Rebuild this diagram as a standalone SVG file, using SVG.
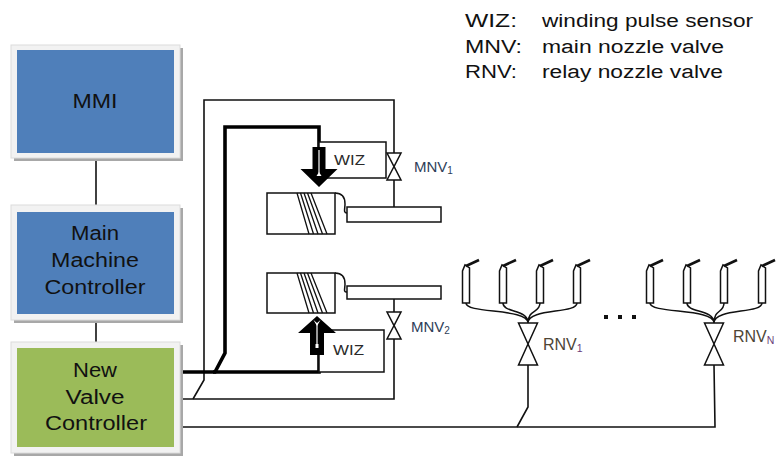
<svg xmlns="http://www.w3.org/2000/svg" width="779" height="457" viewBox="0 0 779 457">
<defs>
<style>
.t{font-family:"Liberation Sans",Arial,sans-serif;fill:#111}
.bx{font-size:20px;text-anchor:middle}
.lg{font-size:18px}
.sm{font-size:15px}
.thin{fill:none;stroke:#111;stroke-width:1.6}
.thick{fill:none;stroke:#000;stroke-width:3.6}
.frame{fill:#f2f2f2;stroke:#dcdcdc;stroke-width:1}
.shadow{fill:#a8a8a8}
.valve{fill:#fff;stroke:#111;stroke-width:1.5;stroke-linejoin:miter}
.drum{fill:#fff;stroke:#111;stroke-width:1.5}
.wire{fill:none;stroke:#111;stroke-width:1.5}
</style>
<g id="nozzle-shape">
<path d="M-3.5,303 L-3.5,271 L-1,265 L3.5,268 L3.5,303 Z" fill="#fff" stroke="#111" stroke-width="1.5"/>
<path d="M0,266 L13,260" stroke="#111" stroke-width="2.6" fill="none"/>
</g>
<g id="valve-sm">
<path d="M-7,0 L7,0 L0,13.5 Z M0,13.5 L-7,27 L7,27 Z" class="valve"/>
</g>
<g id="valve-lg">
<path d="M-9.5,0 L9.5,0 L0,21 Z M0,21 L-9.5,42 L9.5,42 Z" class="valve"/>
</g>
</defs>

<rect width="779" height="457" fill="#fff"/>

<!-- legend -->
<g id="legend">
<text class="t lg" x="465" y="27" textLength="52" lengthAdjust="spacingAndGlyphs">WIZ:</text>
<text class="t lg" x="542" y="27" textLength="211" lengthAdjust="spacingAndGlyphs">winding pulse sensor</text>
<text class="t lg" x="465" y="53" textLength="57" lengthAdjust="spacingAndGlyphs">MNV:</text>
<text class="t lg" x="542" y="53" textLength="182" lengthAdjust="spacingAndGlyphs">main nozzle valve</text>
<text class="t lg" x="465" y="78" textLength="52" lengthAdjust="spacingAndGlyphs">RNV:</text>
<text class="t lg" x="542" y="78" textLength="181" lengthAdjust="spacingAndGlyphs">relay nozzle valve</text>
</g>

<!-- connectors -->
<g id="connectors">
<line x1="96" y1="158" x2="96" y2="205" class="thin"/>
<line x1="96" y1="320" x2="96" y2="342" class="thin"/>
<path d="M193,399 L204,380 L204,100 L394,100 L394,153" class="thin"/>
<path d="M394,180 L394,207" class="thin"/>
<path d="M180,399 L394,399 L394,339" class="thin"/>
<path d="M394,312 L394,299" class="thin"/>
<path d="M180,372 L215,372 L225,353 L225,127 L319,127 L319,147" class="thick"/>
<path d="M213,372 L319,372 L319,354" class="thick"/>
<path d="M180,427 L715,427 L714,365" class="thin"/>
<path d="M517,427 L528,407 L528,365" class="thin"/>
<path d="M466,303 C466,314 528,308 528,323 M503,303 C503,313 528,309 528,323 M540,303 C540,313 528,309 528,323 M577,303 C577,314 528,308 528,323" class="wire"/>
<path d="M650,303 C650,314 714,308 714,323 M687,303 C687,313 714,309 714,323 M724,303 C724,313 714,309 714,323 M762,303 C762,314 714,308 714,323" class="wire"/>
</g>

<!-- boxes -->
<g id="mmi">
<rect x="14" y="48" width="169" height="113" class="shadow"/>
<rect x="11" y="45" width="169" height="113" class="frame"/>
<rect x="17" y="50" width="157" height="103" fill="#4f7fba"/>
<text class="t bx" x="95" y="107.5" textLength="45" lengthAdjust="spacingAndGlyphs">MMI</text>
</g>
<g id="mmc">
<rect x="14" y="208" width="169" height="115" class="shadow"/>
<rect x="11" y="205" width="169" height="115" class="frame"/>
<rect x="17" y="212" width="157" height="102" fill="#4f7fba"/>
<text class="t bx" x="95" y="240" textLength="48" lengthAdjust="spacingAndGlyphs">Main</text>
<text class="t bx" x="95" y="267" textLength="88" lengthAdjust="spacingAndGlyphs">Machine</text>
<text class="t bx" x="95" y="294" textLength="101" lengthAdjust="spacingAndGlyphs">Controller</text>
</g>
<g id="nvc">
<rect x="14" y="345" width="169" height="111" class="shadow"/>
<rect x="11" y="342" width="169" height="111" class="frame"/>
<rect x="17" y="348" width="157" height="99" fill="#9bbb59"/>
<text class="t bx" x="95" y="377" textLength="44" lengthAdjust="spacingAndGlyphs">New</text>
<text class="t bx" x="95" y="404" textLength="59" lengthAdjust="spacingAndGlyphs">Valve</text>
<text class="t bx" x="96" y="430" textLength="102" lengthAdjust="spacingAndGlyphs">Controller</text>
</g>

<!-- upper main nozzle -->
<g id="main-nozzle-1">
<rect x="267" y="193" width="68" height="41" class="drum"/>
<path d="M297,193 L309,234 M300.5,193 L313.5,234 M304,193 L318,234 M307.5,193 L322.5,234 M311,193 L327,234" stroke="#111" stroke-width="1.3" fill="none"/>
<path d="M335,193 C343,193 345,199 345,204 C345,209 343,213 347,213" class="wire"/>
<rect x="347" y="207" width="94" height="15" class="drum"/>
</g>
<g id="wiz-1">
<rect x="319" y="142" width="67" height="36" class="drum"/>
<path d="M312.5,147 L325.5,147 L325.5,169 L337.5,169 L319,187 L300.5,169 L312.5,169 Z" fill="#000"/>
<path d="M319,150 L319,173" stroke="#fff" stroke-width="1.2"/>
<path d="M316.5,176 L319,172 L321.5,176 Z" fill="#fff"/>
<text class="t sm" x="334" y="165" style="fill:#2a2a2a" textLength="31" lengthAdjust="spacingAndGlyphs">WIZ</text>
</g>
<g id="mnv-1">
<use href="#valve-sm" x="394" y="153"/>
<text class="t sm" x="414" y="172" style="fill:#2e3e58">MNV<tspan font-size="10" dy="2">1</tspan></text>
</g>

<!-- lower main nozzle -->
<g id="main-nozzle-2">
<rect x="267" y="273" width="68" height="40" class="drum"/>
<path d="M297,273 L309,313 M300.5,273 L313.5,313 M304,273 L318,313 M307.5,273 L322.5,313 M311,273 L327,313" stroke="#111" stroke-width="1.3" fill="none"/>
<path d="M335,273 C343,273 345,279 345,284 C345,289 343,292 347,292" class="wire"/>
<rect x="347" y="286" width="94" height="13" class="drum"/>
</g>
<g id="wiz-2">
<rect x="319" y="330" width="65" height="42" class="drum"/>
<path d="M317,316 L336,333 L324,333 L324,355 L310,355 L310,333 L298,333 Z" fill="#000"/>
<path d="M317,324 L317,345" stroke="#fff" stroke-width="1.2"/>
<path d="M313.5,320 L317,323 L320.5,320 L317,326 Z" fill="#fff"/>
<rect x="315.5" y="344" width="3" height="4" fill="#fff"/>
<text class="t sm" x="333" y="355" style="fill:#2a2a2a" textLength="31" lengthAdjust="spacingAndGlyphs">WIZ</text>
</g>
<g id="mnv-2">
<use href="#valve-sm" x="394" y="312"/>
<text class="t sm" x="411" y="332" style="fill:#2e3e58">MNV<tspan font-size="10" dy="2">2</tspan></text>
</g>

<!-- relay nozzles -->
<g id="relay-group-1">
<use href="#nozzle-shape" x="466"/>
<use href="#nozzle-shape" x="503"/>
<use href="#nozzle-shape" x="540"/>
<use href="#nozzle-shape" x="577"/>
</g>
<g id="rnv-1">
<use href="#valve-lg" x="528" y="323"/>
<text class="t" x="543" y="350" style="fill:#4d4535;font-size:16px">RNV<tspan font-size="10.5" dy="2" style="fill:#6a3d7a">1</tspan></text>
</g>
<g id="dots">
<rect x="604" y="315" width="4" height="4" fill="#111"/>
<rect x="618" y="315" width="4" height="4" fill="#111"/>
<rect x="632" y="315" width="4" height="4" fill="#111"/>
</g>
<g id="relay-group-n">
<use href="#nozzle-shape" x="650"/>
<use href="#nozzle-shape" x="687"/>
<use href="#nozzle-shape" x="724"/>
<use href="#nozzle-shape" x="762"/>
</g>
<g id="rnv-n">
<use href="#valve-lg" x="714" y="323"/>
<text class="t" x="733" y="342" style="fill:#4d4535;font-size:16px">RNV<tspan font-size="10.5" dy="2" style="fill:#6a3d7a">N</tspan></text>
</g>
</svg>
